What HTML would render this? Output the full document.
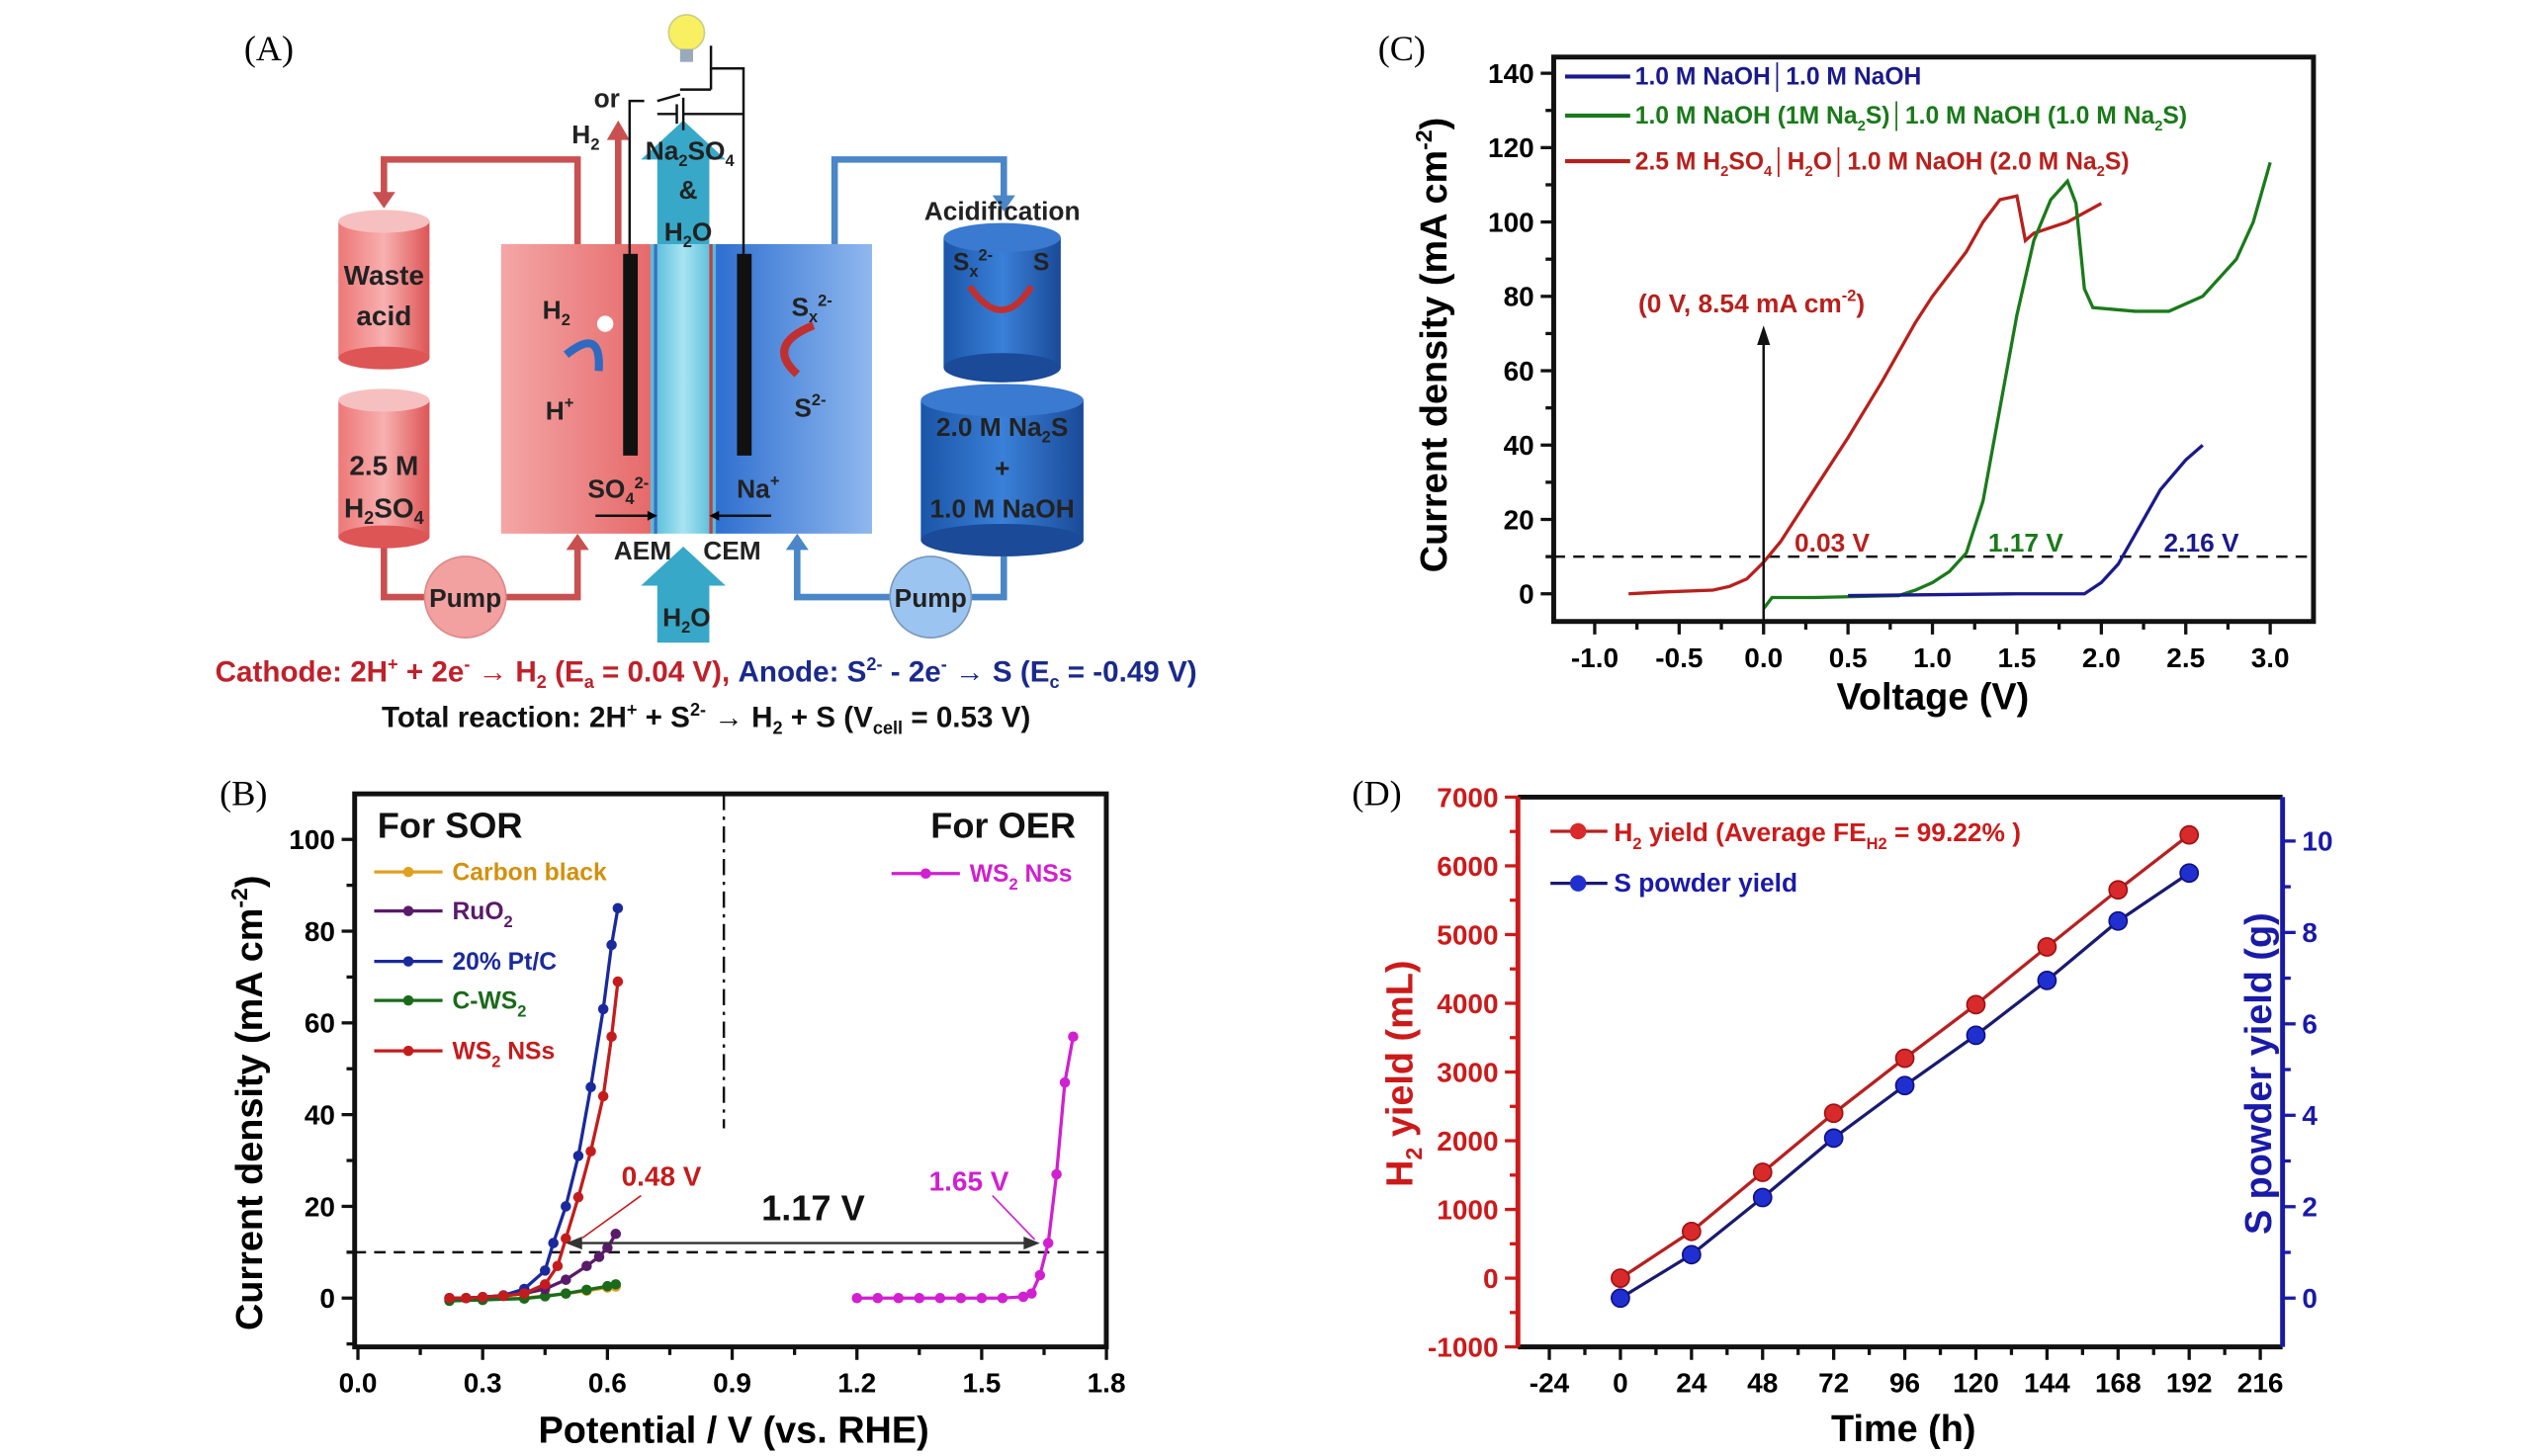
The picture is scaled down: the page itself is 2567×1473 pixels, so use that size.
<!DOCTYPE html>
<html><head><meta charset="utf-8"><style>
html,body{margin:0;padding:0;background:#fff}
svg{display:block}
text{font-family:"Liberation Sans",sans-serif}
.b{font-weight:bold}
.lab{font-family:"Liberation Serif",serif;font-size:22px}
</style></head><body>
<svg id="fig" width="2567" height="1473" viewBox="0 0 1560 895" xmlns="http://www.w3.org/2000/svg">
<defs>
<linearGradient id="redg" x1="0" x2="1"><stop offset="0" stop-color="#f4a6a6"/><stop offset="1" stop-color="#e66a6a"/></linearGradient>
<linearGradient id="blueg" x1="0" x2="1"><stop offset="0" stop-color="#2f6fd0"/><stop offset="1" stop-color="#8fb8ee"/></linearGradient>
<linearGradient id="memg" x1="0" x2="1"><stop offset="0" stop-color="#4fb8d8"/><stop offset="0.5" stop-color="#a8e4f2"/><stop offset="1" stop-color="#4fb8d8"/></linearGradient>
<linearGradient id="cylr" x1="0" x2="1"><stop offset="0" stop-color="#e77"/><stop offset="0.5" stop-color="#f8b0b0"/><stop offset="1" stop-color="#d55"/></linearGradient>
<linearGradient id="cylb" x1="0" x2="1"><stop offset="0" stop-color="#1a55a8"/><stop offset="0.5" stop-color="#3a80d8"/><stop offset="1" stop-color="#1a4a98"/></linearGradient>
</defs>

<text class="lab" x="150" y="37">(A)</text>
<text class="lab" x="135" y="495">(B)</text>
<text class="lab" x="847" y="37">(C)</text>
<text class="lab" x="831" y="495">(D)</text>

<g>
  <g fill="none" stroke="#c95050" stroke-width="4">
    <polyline points="355,150 355,98 236,98 236,122"/>
    <polyline points="236,330 236,367 262,367"/>
    <polyline points="310,367 355,367 355,336"/>
    <line x1="380" y1="150" x2="380" y2="82"/>
  </g>
  <path d="M229,118 L243,118 L236,128 Z" fill="#c95050"/>
  <path d="M348,338 L362,338 L355,328 Z" fill="#c95050"/>
  <path d="M373,86 L387,86 L380,74 Z" fill="#c95050"/>
  <g fill="none" stroke="#4a86c8" stroke-width="4">
    <polyline points="513,150 513,98 617,98 617,124"/>
    <polyline points="617,335 617,367 597,367"/>
    <polyline points="547,367 490,367 490,336"/>
  </g>
  <path d="M610,120 L624,120 L617,130 Z" fill="#4a86c8"/>
  <path d="M483,338 L497,338 L490,328 Z" fill="#4a86c8"/>
  <g>
    <rect x="208" y="136" width="56" height="84" fill="url(#cylr)"/><ellipse cx="236" cy="220" rx="28" ry="7" fill="#d55"/><ellipse cx="236" cy="136" rx="28" ry="7" fill="#f7c0c0"/>
    <text class="b" x="236" y="175" font-size="17" text-anchor="middle" fill="#222">Waste</text>
    <text class="b" x="236" y="200" font-size="17" text-anchor="middle" fill="#222">acid</text>
  </g>
  <g>
    <rect x="208" y="246" width="56" height="84" fill="url(#cylr)"/><ellipse cx="236" cy="330" rx="28" ry="7" fill="#d55"/><ellipse cx="236" cy="246" rx="28" ry="7" fill="#f7c0c0"/>
    <text class="b" x="236" y="292" font-size="17" text-anchor="middle" fill="#222">2.5 M</text>
    <text class="b" x="236" y="318" font-size="17" text-anchor="middle" fill="#222">H<tspan font-size="11" dy="4">2</tspan><tspan dy="-4">SO</tspan><tspan font-size="11" dy="4">4</tspan></text>
  </g>
  <g>
    <rect x="580" y="146" width="72" height="80" fill="url(#cylb)"/><ellipse cx="616" cy="226" rx="36" ry="9" fill="#1a4a98"/><ellipse cx="616" cy="146" rx="36" ry="9" fill="#3a7ad0"/>
    <text class="b" x="616" y="135" font-size="16" text-anchor="middle" fill="#222">Acidification</text>
    <text class="b" x="598" y="166" font-size="15" text-anchor="middle" fill="#222">S<tspan font-size="10" dy="4">x</tspan><tspan font-size="10" dy="-10">2-</tspan></text>
    <text class="b" x="640" y="166" font-size="15" text-anchor="middle" fill="#222">S</text>
    <path d="M596,176 Q616,205 634,176" fill="none" stroke="#c03030" stroke-width="4"/>
  </g>
  <g>
    <rect x="566" y="246" width="100" height="86" fill="url(#cylb)"/><ellipse cx="616" cy="332" rx="50" ry="10" fill="#1a4a98"/><ellipse cx="616" cy="246" rx="50" ry="10" fill="#3a7ad0"/>
    <text class="b" x="616" y="268" font-size="16" text-anchor="middle" fill="#222">2.0 M Na<tspan font-size="10" dy="4">2</tspan><tspan dy="-4">S</tspan></text>
    <text class="b" x="616" y="293" font-size="16" text-anchor="middle" fill="#222">+</text>
    <text class="b" x="616" y="318" font-size="16" text-anchor="middle" fill="#222">1.0 M NaOH</text>
  </g>
  <rect x="308" y="150" width="92" height="178" fill="url(#redg)"/>
  <rect x="440" y="150" width="96" height="178" fill="url(#blueg)"/>
  <rect x="400" y="150" width="40" height="178" fill="url(#memg)"/>
  <line x1="403" y1="150" x2="403" y2="328" stroke="#3a70c0" stroke-width="2"/>
  <line x1="437" y1="150" x2="437" y2="328" stroke="#c04040" stroke-width="2"/>
  <path d="M404,150 L404,98 L394,98 L420,74 L446,98 L436,98 L436,150 Z" fill="#38a8c8"/>
  <path d="M404,395 L404,360 L394,360 L420,336 L446,360 L436,360 L436,395 Z" fill="#38a8c8"/>
  <rect x="383" y="156" width="9" height="124" fill="#111"/>
  <rect x="453" y="156" width="9" height="124" fill="#111"/>
  <g fill="none" stroke="#111" stroke-width="1.5">
    <polyline points="387,156 387,62 396,62"/>
    <polyline points="457,156 457,42 437,42 437,28"/>
    <line x1="404" y1="62" x2="418" y2="58"/><line x1="418" y1="55" x2="437" y2="55"/>
    <line x1="404" y1="70" x2="416" y2="70"/><line x1="416" y1="64" x2="416" y2="76"/>
    <line x1="420" y1="60" x2="420" y2="80"/><polyline points="420,70 457,70"/>
    <polyline points="437,55 437,42"/>
  </g>
  <circle cx="422" cy="20" r="11" fill="#f8f060" stroke="#cc8"/>
  <rect x="418" y="30" width="8" height="8" fill="#9ab"/>
  <text class="b" x="373" y="66" font-size="16" text-anchor="middle" fill="#222">or</text>
  <text class="b" x="360" y="88" font-size="16" text-anchor="middle" fill="#222">H<tspan font-size="10" dy="4">2</tspan></text>
  <text class="b" x="424" y="98" font-size="16" text-anchor="middle" fill="#222">Na<tspan font-size="10" dy="4">2</tspan><tspan dy="-4">SO</tspan><tspan font-size="10" dy="4">4</tspan></text>
  <text class="b" x="423" y="122" font-size="16" text-anchor="middle" fill="#222">&amp;</text>
  <text class="b" x="423" y="148" font-size="16" text-anchor="middle" fill="#222">H<tspan font-size="10" dy="4">2</tspan><tspan dy="-4">O</tspan></text>
  <text class="b" x="342" y="196" font-size="16" text-anchor="middle" fill="#222">H<tspan font-size="10" dy="4">2</tspan></text>
  <circle cx="372" cy="199" r="5" fill="#fff"/>
  <path d="M348,218 Q370,200 368,228" fill="none" stroke="#2f6ac0" stroke-width="5"/>
  <text class="b" x="344" y="258" font-size="16" text-anchor="middle" fill="#222">H<tspan font-size="10" dy="-7">+</tspan></text>
  <text class="b" x="499" y="194" font-size="16" text-anchor="middle" fill="#222">S<tspan font-size="10" dy="4">x</tspan><tspan font-size="10" dy="-10">2-</tspan></text>
  <path d="M490,230 Q470,212 500,200" fill="none" stroke="#c03030" stroke-width="5"/>
  <text class="b" x="498" y="256" font-size="16" text-anchor="middle" fill="#222">S<tspan font-size="10" dy="-7">2-</tspan></text>
  <text class="b" x="380" y="306" font-size="16" text-anchor="middle" fill="#222">SO<tspan font-size="10" dy="4">4</tspan><tspan font-size="10" dy="-10">2-</tspan></text>
  <text class="b" x="466" y="306" font-size="16" text-anchor="middle" fill="#222">Na<tspan font-size="10" dy="-7">+</tspan></text>
  <line x1="366" y1="317" x2="398" y2="317" stroke="#111" stroke-width="1.5"/><path d="M398,314 L404,317 L398,320Z"/>
  <line x1="442" y1="317" x2="474" y2="317" stroke="#111" stroke-width="1.5"/><path d="M442,314 L436,317 L442,320Z"/>
  <text class="b" x="395" y="344" font-size="16" text-anchor="middle" fill="#222">AEM</text>
  <text class="b" x="450" y="344" font-size="16" text-anchor="middle" fill="#222">CEM</text>
  <text class="b" x="422" y="385" font-size="16" text-anchor="middle" fill="#222">H<tspan font-size="10" dy="4">2</tspan><tspan dy="-4">O</tspan></text>
  <circle cx="286" cy="367" r="25" fill="#f2a0a0" stroke="#d88"/>
  <text class="b" x="286" y="373" font-size="16" text-anchor="middle" fill="#222">Pump</text>
  <circle cx="572" cy="367" r="25" fill="#9cc4f0" stroke="#79b"/>
  <text class="b" x="572" y="373" font-size="16" text-anchor="middle" fill="#222">Pump</text>
  <text class="b" x="434" y="419" font-size="18" text-anchor="middle"><tspan fill="#c0202a">Cathode: 2H<tspan font-size="11" dy="-7">+</tspan><tspan dy="7"> + 2e</tspan><tspan font-size="11" dy="-7">-</tspan><tspan dy="7"> → H</tspan><tspan font-size="11" dy="4">2</tspan><tspan dy="-4"> (E</tspan><tspan font-size="11" dy="4">a</tspan><tspan dy="-4"> = 0.04 V), </tspan></tspan><tspan fill="#1a2a8c">Anode: S<tspan font-size="11" dy="-7">2-</tspan><tspan dy="7"> - 2e</tspan><tspan font-size="11" dy="-7">-</tspan><tspan dy="7"> → S (E</tspan><tspan font-size="11" dy="4">c</tspan><tspan dy="-4"> = -0.49 V)</tspan></tspan></text>
  <text class="b" x="434" y="447" font-size="18" text-anchor="middle" fill="#111">Total reaction: 2H<tspan font-size="11" dy="-7">+</tspan><tspan dy="7"> + S</tspan><tspan font-size="11" dy="-7">2-</tspan><tspan dy="7"> → H</tspan><tspan font-size="11" dy="4">2</tspan><tspan dy="-4"> + S (V</tspan><tspan font-size="11" dy="4">cell</tspan><tspan dy="-4"> = 0.53 V)</tspan></text>
</g>

<g id="chartB"></g>
<g id="chartC"></g>
<g id="chartD"></g>
</svg>
<script>
const bPtX = [0.22,0.26,0.3,0.35,0.4,0.45,0.47,0.5,0.53,0.56,0.59,0.61,0.625];
const bPtY = [0,0,0.2,0.6,2,6,12,20,31,46,63,77,85];
const bWsX = [0.22,0.26,0.3,0.35,0.4,0.45,0.48,0.5,0.53,0.56,0.59,0.61,0.625];
const bWsY = [0,0,0.2,0.5,1,3,7,13,22,32,44,57,69];
const bRuX = [0.22,0.26,0.3,0.35,0.4,0.45,0.5,0.55,0.58,0.6,0.62];
const bRuY = [0,0,0.2,0.5,1,2,4,7,9,11,14];
const bCbX = [0.22,0.3,0.4,0.45,0.5,0.55,0.6,0.62];
const bCbY = [-0.5,-0.3,0,0.5,1,1.6,2.3,2.5];
const bCwX = [0.22,0.3,0.4,0.45,0.5,0.55,0.6,0.62];
const bCwY = [-0.6,-0.4,-0.1,0.4,1,1.8,2.6,3];
const bOerX = [1.2,1.25,1.3,1.35,1.4,1.45,1.5,1.55,1.6,1.62,1.64,1.66,1.68,1.7,1.72];
const bOerY = [0,0,0,0,0,0,0,0,0.3,1,5,12,27,47,57];
const bXTicks = [0,0.3,0.6,0.9,1.2,1.5,1.8];
const bYTicks = [0,20,40,60,80,100];
const cRedX = [-0.8,-0.6,-0.3,-0.2,-0.1,0,0.1,0.3,0.5,0.7,0.9,1.0,1.2,1.3,1.4,1.5,1.55,1.6,1.8,2.0];
const cRedY = [0,0.5,1,2,4,8.5,14,28,42,57,73,80,92,100,106,107,95,97,100,105];
const cGreenX = [0,0.05,0.3,0.8,0.9,1.0,1.1,1.2,1.3,1.4,1.5,1.6,1.7,1.8,1.85,1.9,1.95,2.2,2.4,2.6,2.8,2.9,3.0];
const cGreenY = [-4,-1,-1,-0.5,1,3,6,11,25,50,75,95,106,111,105,82,77,76,76,80,90,100,116];
const cBlueX = [0.5,1.5,1.9,2.0,2.1,2.2,2.35,2.5,2.6];
const cBlueY = [-0.5,0,0,3,8,16,28,36,40];
const cXTicks = [-1.0,-0.5,0.0,0.5,1.0,1.5,2.0,2.5,3.0];
const cYTicks = [0,20,40,60,80,100,120,140];
const dTime = [0,24,48,72,96,120,144,168,192];
const dH2 = [0,680,1540,2400,3200,3980,4820,5650,6450];
const dS = [0,0.95,2.2,3.5,4.65,5.75,6.95,8.25,9.3];
const dXTicks = [-24,0,24,48,72,96,120,144,168,192,216];
const dYLTicks = [-1000,0,1000,2000,3000,4000,5000,6000,7000];
const dYRTicks = [0,2,4,6,8,10];

const NS = 'http://www.w3.org/2000/svg';
function mk(tag, attrs, parent){const e=document.createElementNS(NS,tag);for(const k in attrs)e.setAttribute(k,attrs[k]);parent.appendChild(e);return e;}
function pathD(xs,ys,X,Y){return xs.map((v,i)=>(i?'L':'M')+X(v).toFixed(1)+','+Y(ys[i]).toFixed(1)).join(' ');}

(function(){
  const g=document.getElementById('chartB');
  const L=218,R=680,T=488,B=828;
  const X=v=>220+v*255.6, Y=v=>798-v*2.82;
  let e;
  e=mk('rect',{x:L,y:T,width:R-L,height:B-T,fill:'none',stroke:'#111','stroke-width':3},g);
  
  
  for(let v=0;v<=1.8001;v+=0.15){const major=Math.abs(v/0.3-Math.round(v/0.3))<1e-6;mk('line',{x1:X(v),x2:X(v),y1:B,y2:B+(major?8:5),stroke:'#111','stroke-width':2},g);}
  for(let v=-10;v<=110;v+=10){if(Y(v)<T||Y(v)>B)continue;mk('line',{x1:L,x2:L-(v%20===0?8:5),y1:Y(v),y2:Y(v),stroke:'#111','stroke-width':2},g);}
  bXTicks.forEach(v=>{e=mk('text',{x:X(v),y:B+28,'font-size':17,'font-weight':'bold','text-anchor':'middle'},g);e.textContent=v.toFixed(1);
    
    });
  bYTicks.forEach(v=>{e=mk('text',{x:L-12,y:Y(v)+6,'font-size':17,'font-weight':'bold','text-anchor':'end'},g);e.textContent=v;
    
    });
  e=mk('text',{x:451,y:887,'font-size':23,'font-weight':'bold','text-anchor':'middle'},g);e.textContent='Potential / V (vs. RHE)';
  
  
  e=mk('text',{x:0,y:0,'font-size':23,'font-weight':'bold','text-anchor':'middle',transform:'translate(161,678) rotate(-90)'},g);
  e.innerHTML='Current density (mA cm<tspan font-size="14" dy="-9">-2</tspan><tspan dy="9">)</tspan>';
  
  
  e=mk('line',{x1:L,x2:R,y1:Y(10),y2:Y(10),stroke:'#111','stroke-width':1.5,'stroke-dasharray':'7,5'},g);
  
  
  e=mk('line',{x1:X(0.88),x2:X(0.88),y1:T,y2:Y(37),stroke:'#111','stroke-width':1.5,'stroke-dasharray':'10,4,2,4'},g);
  
  
  const series=[[bCbX,bCbY,'#e0a020','carbon-black'],[bCwX,bCwY,'#1a6a1a','c-ws2'],[bRuX,bRuY,'#5a1a6a','ruo2'],[bPtX,bPtY,'#1a2a9c','pt-c'],[bWsX,bWsY,'#c41c1c','ws2-nss'],[bOerX,bOerY,'#d020d0','ws2-oer']];
  series.forEach(s=>{
    const p=mk('path',{d:pathD(s[0],s[1],X,Y),fill:'none',stroke:s[2],'stroke-width':2},g);
    
    
    s[0].forEach((v,i)=>{const c=mk('circle',{cx:X(v),cy:Y(s[1][i]),r:3.2,fill:s[2]},g);
      
      });
  });
  e=mk('line',{x1:X(0.52),x2:X(1.62),y1:Y(12),y2:Y(12),stroke:'#333','stroke-width':1.5},g);
  
  
  mk('path',{d:`M${X(0.5)},${Y(12)} l10,-4 l0,8 Z`,fill:'#333'},g);
  mk('path',{d:`M${X(1.64)},${Y(12)} l-10,-4 l0,8 Z`,fill:'#333'},g);
  mk('line',{x1:394,y1:735,x2:358,y2:761,stroke:'#c41c1c','stroke-width':1},g);
  mk('line',{x1:610,y1:735,x2:636,y2:762,stroke:'#d020d0','stroke-width':1},g);
  const txt=(x,y,s,fs,col,name,anchor)=>{const t=mk('text',{x:x,y:y,'font-size':fs,'font-weight':'bold',fill:col,'text-anchor':anchor||'start'},g);t.innerHTML=s;return t;};
  e=txt(232,515,'For SOR',22,'#111');
  e=txt(572,515,'For OER',22,'#111');
  e=txt(382,729,'0.48 V',17,'#c41c1c');
  e=txt(468,750,'1.17 V',22,'#111');
  e=txt(571,732,'1.65 V',17,'#d020d0');
  const leg=[['Carbon black','#e0a020','#d4900c',541],['RuO<tspan font-size="10" dy="5">2</tspan>','#5a1a6a','#5a1a6a',565],['20% Pt/C','#1a2a9c','#1a2a9c',596],['C-WS<tspan font-size="10" dy="5">2</tspan>','#1a6a1a','#1a6a1a',620],['WS<tspan font-size="10" dy="5">2</tspan><tspan dy="-5"> NSs</tspan>','#c41c1c','#c41c1c',651]];
  leg.forEach(l=>{mk('line',{x1:230,x2:272,y1:l[3]-5,y2:l[3]-5,stroke:l[1],'stroke-width':2},g);mk('circle',{cx:251,cy:l[3]-5,r:3.2,fill:l[1]},g);
    const t=txt(278,l[3],l[0],15,l[2]);});
  mk('line',{x1:548,x2:590,y1:537,y2:537,stroke:'#d020d0','stroke-width':2},g);mk('circle',{cx:569,cy:537,r:3.2,fill:'#d020d0'},g);
  e=txt(596,542,'WS<tspan font-size="10" dy="5">2</tspan><tspan dy="-5"> NSs</tspan>',15,'#d020d0');
})();

(function(){
  const g=document.getElementById('chartC');
  const L=955,R=1422,T=35,B=382;
  const X=v=>1084+v*103.8, Y=v=>365-v*2.286;
  let e;
  e=mk('rect',{x:L,y:T,width:R-L,height:B-T,fill:'none',stroke:'#111','stroke-width':3},g);
  
  
  for(let v=-1.25;v<=3.2;v+=0.25){if(X(v)<L||X(v)>R)continue;const major=Math.abs(v*2-Math.round(v*2))<1e-6;mk('line',{x1:X(v),x2:X(v),y1:B,y2:B+(major?8:5),stroke:'#111','stroke-width':2},g);}
  for(let v=0;v<=140;v+=10){mk('line',{x1:L,x2:L-(v%20===0?8:5),y1:Y(v),y2:Y(v),stroke:'#111','stroke-width':2},g);}
  cXTicks.forEach(v=>{e=mk('text',{x:X(v),y:B+28,'font-size':17,'font-weight':'bold','text-anchor':'middle'},g);e.textContent=v.toFixed(1);
    
    });
  cYTicks.forEach(v=>{e=mk('text',{x:L-12,y:Y(v)+6,'font-size':17,'font-weight':'bold','text-anchor':'end'},g);e.textContent=v;
    
    });
  e=mk('text',{x:1188,y:436,'font-size':23,'font-weight':'bold','text-anchor':'middle'},g);e.textContent='Voltage (V)';
  
  
  e=mk('text',{x:0,y:0,'font-size':23,'font-weight':'bold','text-anchor':'middle',transform:'translate(889,212) rotate(-90)'},g);
  e.innerHTML='Current density (mA cm<tspan font-size="14" dy="-9">-2</tspan><tspan dy="9">)</tspan>';
  
  
  e=mk('line',{x1:L,x2:R,y1:Y(10),y2:Y(10),stroke:'#111','stroke-width':1.5,'stroke-dasharray':'7,5'},g);
  
  
  const series=[[cRedX,cRedY,'#b8201c','acid-alkaline'],[cGreenX,cGreenY,'#1a7a1a','naoh-na2s'],[cBlueX,cBlueY,'#1a1a8c','naoh-naoh']];
  series.forEach(s=>{const p=mk('path',{d:pathD(s[0],s[1],X,Y),fill:'none',stroke:s[2],'stroke-width':2},g);
    
    });
  e=mk('line',{x1:X(0),x2:X(0),y1:B,y2:208,stroke:'#111','stroke-width':1.5},g);
  
  
  mk('path',{d:`M${X(0)-4},212 L${X(0)},200 L${X(0)+4},212 Z`,fill:'#111'},g);
  const txt=(x,y,s,fs,col)=>{const t=mk('text',{x:x,y:y,'font-size':fs,'font-weight':'bold',fill:col},g);t.innerHTML=s;return t;};
  e=txt(1007,192,'(0 V, 8.54 mA cm<tspan font-size="10" dy="-7">-2</tspan><tspan dy="7">)</tspan>',16,'#b8201c');
  e=txt(1103,339,'0.03 V',16,'#b8201c');
  e=txt(1222,339,'1.17 V',16,'#1a7a1a');
  e=txt(1330,339,'2.16 V',16,'#1a1a8c');
  const leg=[['1.0 M NaOH│1.0 M NaOH','#1a1a8c',52],['1.0 M NaOH (1M Na<tspan font-size="9" dy="4">2</tspan><tspan dy="-4">S)│1.0 M NaOH (1.0 M Na</tspan><tspan font-size="9" dy="4">2</tspan><tspan dy="-4">S)</tspan>','#1a7a1a',76],['2.5 M H<tspan font-size="9" dy="4">2</tspan><tspan dy="-4">SO</tspan><tspan font-size="9" dy="4">4</tspan><tspan dy="-4">│H</tspan><tspan font-size="9" dy="4">2</tspan><tspan dy="-4">O│1.0 M NaOH (2.0 M Na</tspan><tspan font-size="9" dy="4">2</tspan><tspan dy="-4">S)</tspan>','#b8201c',104]];
  leg.forEach(l=>{mk('line',{x1:962,x2:1002,y1:l[2]-5,y2:l[2]-5,stroke:l[1],'stroke-width':2.5},g);
    const t=txt(1005,l[2],l[0],15,l[1]);});
})();

(function(){
  const g=document.getElementById('chartD');
  const L=933,R=1403,T=490,B=828;
  const X=v=>996+v*(43.7/24), YL=v=>B-(v+1000)*(B-T)/8000, YR=v=>798-v*28.1;
  let e;
  e=mk('line',{x1:L,x2:R,y1:T,y2:T,stroke:'#111','stroke-width':3},g);
  
  
  e=mk('line',{x1:L,x2:R,y1:B,y2:B,stroke:'#111','stroke-width':3},g);
  
  
  e=mk('line',{x1:L,x2:L,y1:T,y2:B,stroke:'#cc1a1a','stroke-width':3},g);
  
  
  e=mk('line',{x1:R,x2:R,y1:T,y2:B,stroke:'#1a1aa8','stroke-width':3},g);
  
  
  for(let v=-24;v<=216;v+=12){mk('line',{x1:X(v),x2:X(v),y1:B,y2:B+(v%24===0?8:5),stroke:'#111','stroke-width':2},g);}
  for(let v=-1000;v<=7000;v+=500){mk('line',{x1:L,x2:L-(v%1000===0?8:5),y1:YL(v),y2:YL(v),stroke:'#cc1a1a','stroke-width':2},g);}
  for(let v=0;v<=10;v+=1){mk('line',{x1:R,x2:R+(v%2===0?8:5),y1:YR(v),y2:YR(v),stroke:'#1a1aa8','stroke-width':2},g);}
  dXTicks.forEach(v=>{e=mk('text',{x:X(v),y:B+28,'font-size':17,'font-weight':'bold','text-anchor':'middle'},g);e.textContent=v;
    
    });
  dYLTicks.forEach(v=>{e=mk('text',{x:L-12,y:YL(v)+6,'font-size':17,'font-weight':'bold','text-anchor':'end',fill:'#cc1a1a'},g);e.textContent=v;
    
    });
  dYRTicks.forEach(v=>{e=mk('text',{x:R+12,y:YR(v)+6,'font-size':17,'font-weight':'bold',fill:'#1a1aa8'},g);e.textContent=v;
    
    });
  e=mk('text',{x:1170,y:886,'font-size':23,'font-weight':'bold','text-anchor':'middle'},g);e.textContent='Time (h)';
  
  
  e=mk('text',{x:0,y:0,'font-size':23,'font-weight':'bold','text-anchor':'middle',fill:'#cc1a1a',transform:'translate(868,660) rotate(-90)'},g);
  e.innerHTML='H<tspan font-size="14" dy="6">2</tspan><tspan dy="-6"> yield (mL)</tspan>';
  
  
  e=mk('text',{x:0,y:0,'font-size':23,'font-weight':'bold','text-anchor':'middle',fill:'#1a1aa8',transform:'translate(1396,660) rotate(-90)'},g);
  e.textContent='S powder yield (g)';
  
  
  let p=mk('path',{d:pathD(dTime,dH2,X,YL),fill:'none',stroke:'#b82020','stroke-width':2},g);
  
  
  p=mk('path',{d:pathD(dTime,dS,X,YR),fill:'none',stroke:'#1a1a70','stroke-width':2},g);
  
  
  dTime.forEach((t,i)=>{let c=mk('circle',{cx:X(t),cy:YL(dH2[i]),r:5.5,fill:'#d82a2a',stroke:'#a01010'},g);
    
    
    c=mk('circle',{cx:X(t),cy:YR(dS[i]),r:5.5,fill:'#2030d0',stroke:'#101080'},g);
    
    });
  mk('line',{x1:953,x2:988,y1:511,y2:511,stroke:'#b82020','stroke-width':2},g);mk('circle',{cx:970,cy:511,r:5,fill:'#d82a2a'},g);
  mk('line',{x1:953,x2:988,y1:543,y2:543,stroke:'#1a1a70','stroke-width':2},g);mk('circle',{cx:970,cy:543,r:5,fill:'#2030d0'},g);
  e=mk('text',{x:992,y:517,'font-size':16,'font-weight':'bold',fill:'#cc1a1a'},g);
  e.innerHTML='H<tspan font-size="10" dy="5">2</tspan><tspan dy="-5"> yield (Average FE</tspan><tspan font-size="10" dy="5">H2</tspan><tspan dy="-5"> = 99.22% )</tspan>';
  
  
  e=mk('text',{x:992,y:548,'font-size':16,'font-weight':'bold',fill:'#1a1aa8'},g);
  e.textContent='S powder yield';
  
  
})();
</script>
</body></html>
